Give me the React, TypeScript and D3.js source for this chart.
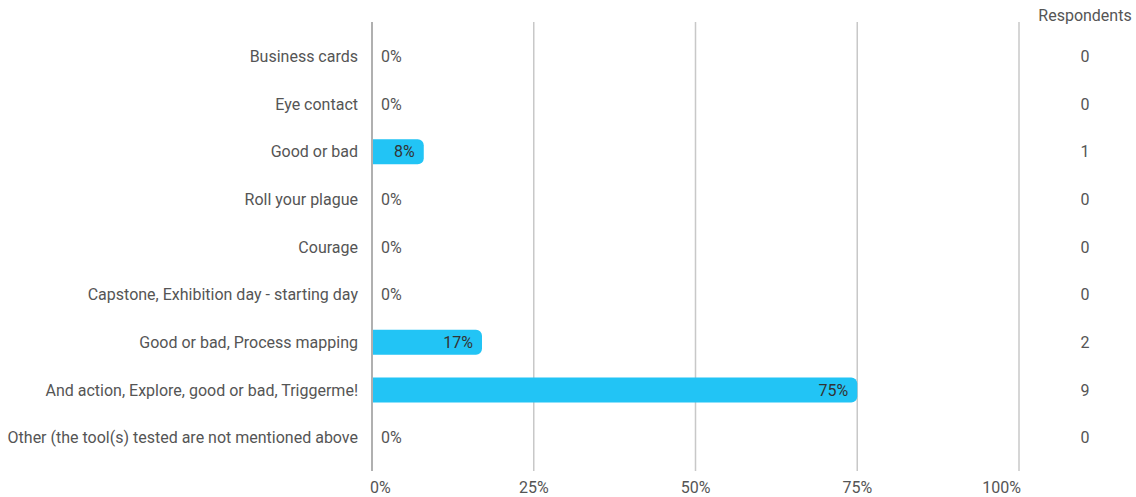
import React from "react";
import * as d3 from "d3";

const categories = [
  "Business cards",
  "Eye contact",
  "Good or bad",
  "Roll your plague",
  "Courage",
  "Capstone, Exhibition day - starting day",
  "Good or bad, Process mapping",
  "And action, Explore, good or bad, Triggerme!",
  "Other (the tool(s) tested are not mentioned above",
];
const respondents = [0, 0, 1, 0, 0, 0, 2, 9, 0];
const percents = [0, 0, 8, 0, 0, 0, 17, 75, 0];
const xTicks = [0, 25, 50, 75, 100];
const xTickLabels = ["0%", "25%", "50%", "75%", "100%"];

export default function App() {
  const W = 1136, H = 497;
  const x = d3.scaleLinear().domain([0, 100]).range([372, 1019]);
  const y = d3.scaleBand<string>().domain(categories).range([32.5, 461.5]).paddingInner(0.47).paddingOuter(0.235);
  const font = "Roboto, 'Noto Sans', sans-serif";
  const textColor = "#555";
  const fs = 16;
  const barH = 25;
  return (
    <svg width={W} height={H} style={{ position: "absolute", left: 0, top: 0 }} fontFamily={font}>
      {xTicks.slice(1).map((t) => (
        <line key={t} x1={x(t)} x2={x(t)} y1={22} y2={471} stroke="#c8c8c8" strokeWidth={1.5} />
      ))}
      {categories.map((c, i) => {
        const v = percents[i];
        const cy = (y(c) as number) + y.bandwidth() / 2;
        const w = x(v) - x(0);
        const r = 6;
        const x0 = x(0);
        const path = w > 0
          ? `M${x0},${cy - barH / 2} H${x0 + w - r} A${r},${r} 0 0 1 ${x0 + w},${cy - barH / 2 + r} V${cy + barH / 2 - r} A${r},${r} 0 0 1 ${x0 + w - r},${cy + barH / 2} H${x0} Z`
          : "";
        const label = `${v}%`;
        return (
          <g key={c}>
            <text x={358} y={cy} dy="0.35em" textAnchor="end" fontSize={fs} fill={textColor}>{c}</text>
            {w > 0 && <path d={path} fill="#22c4f5" />}
            {w > 0 ? (
              <text x={x0 + w - 9} y={cy} dy="0.35em" textAnchor="end" fontSize={fs} fill="#333">{label}</text>
            ) : (
              <text x={381} y={cy} dy="0.35em" fontSize={fs} fill={textColor}>{label}</text>
            )}
            <text x={1085} y={cy} dy="0.35em" textAnchor="middle" fontSize={fs} fill={textColor}>{respondents[i]}</text>
          </g>
        );
      })}
      <line x1={x(0)} x2={x(0)} y1={22} y2={471} stroke="#b0b0b0" strokeWidth={2} />
      {xTicks.map((t, i) => {
        const anchor = i === 0 ? "start" : i === xTicks.length - 1 ? "end" : "middle";
        const dx = i === 0 ? -2 : i === xTicks.length - 1 ? 2 : 0;
        return (
          <text key={t} x={x(t) + dx} y={487} dy="0.35em" textAnchor={anchor} fontSize={fs} fill={textColor}>{xTickLabels[i]}</text>
        );
      })}
      <text x={1085} y={15} dy="0.35em" textAnchor="middle" fontSize={fs} fill={textColor}>Respondents</text>
    </svg>
  );
}
